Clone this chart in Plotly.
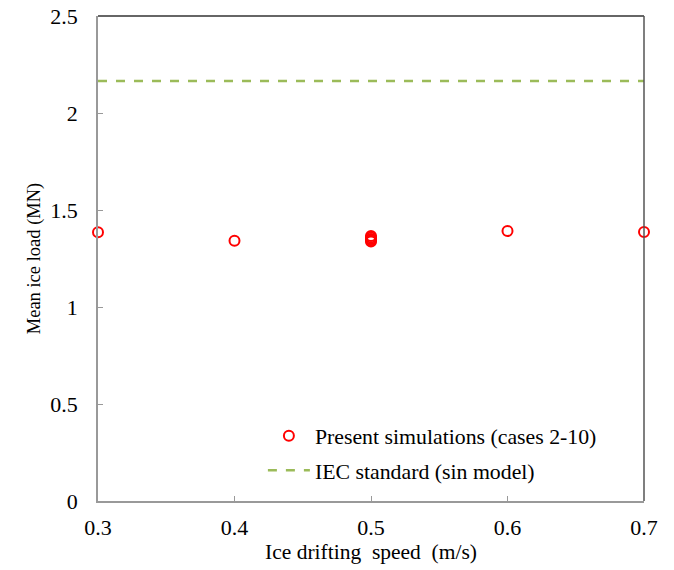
import plotly.graph_objects as go

# Mean ice load from the simulations (cases 2-10), by drift speed
speed = [0.3, 0.4, 0.5, 0.5, 0.5, 0.5, 0.5, 0.6, 0.7]
mean_load = [1.385, 1.342, 1.337, 1.344, 1.351, 1.358, 1.366, 1.392, 1.387]

# IEC standard (sin model) reference level
iec_speed = [0.3, 0.7]
iec_load = [2.165, 2.165]

x_ticks = [0.3, 0.4, 0.5, 0.6, 0.7]
y_ticks = [0, 0.5, 1, 1.5, 2, 2.5]

font_family = "'Times New Roman', 'Liberation Serif', 'DejaVu Serif', serif"

fig = go.Figure()
fig.add_trace(go.Scatter(
    x=speed, y=mean_load, mode="markers",
    name="Present simulations (cases 2-10)",
    legendgroup="sim",
    marker=dict(symbol="circle-open", size=10, color="#FF0000",
                line=dict(width=2, color="#FF0000")),
    cliponaxis=False,
))
fig.add_trace(go.Scatter(
    x=iec_speed, y=iec_load, mode="lines",
    name="IEC standard (sin model)",
    legendgroup="iec",
    line=dict(color="#9BBB59", width=2.5, dash="dash"),
))

fig.update_layout(
    width=674, height=570,
    margin=dict(l=98, r=30, t=16, b=69),
    paper_bgcolor="white", plot_bgcolor="white",
    font=dict(family=font_family, size=21, color="black"),
    showlegend=True,
    legend=dict(x=0.302, y=0.177, xanchor="left", yanchor="top",
                bgcolor="rgba(0,0,0,0)", font=dict(size=21.8),
                traceorder="grouped", tracegroupgap=3, itemwidth=42),
    xaxis=dict(
        range=[0.3, 0.7], tickvals=x_ticks, ticks="inside", ticklen=5,
        tickcolor="#999999", linecolor="#999999", linewidth=1.5,
        showline=True, showgrid=False, zeroline=False, automargin=False,
        ticklabelstandoff=6, tickfont=dict(size=22),
        title=dict(text="Ice drifting  speed  (m/s)", standoff=4,
                   font=dict(size=21.5)),
    ),
    yaxis=dict(
        range=[0, 2.5], tickvals=y_ticks, ticks="inside", ticklen=5,
        tickcolor="#999999", linecolor="#999999", linewidth=1.5,
        showline=True, showgrid=False, zeroline=False, automargin=False,
        ticklabelstandoff=14, tickfont=dict(size=22),
        title=dict(text="Mean ice load (MN)", standoff=5,
                   font=dict(size=18.5)),
    ),
    shapes=[
        dict(type="line", xref="paper", yref="paper", x0=0, x1=1, y0=1, y1=1,
             line=dict(color="#333333", width=1.5)),
        dict(type="line", xref="paper", yref="paper", x0=1, x1=1, y0=0, y1=1,
             line=dict(color="#555555", width=1.5)),
    ],
)

fig.write_html("out.html")
